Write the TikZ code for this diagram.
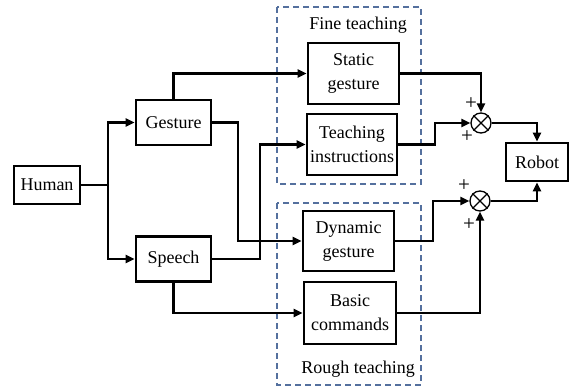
\documentclass[tikz,border=0pt]{standalone}
\usepackage{fontspec}
\setmainfont{Liberation Serif}
\usetikzlibrary{arrows.meta}
\definecolor{groupblue}{RGB}{84,112,158}
\begin{document}
\begin{tikzpicture}[x=1pt,y=-1pt,
  font=\rmfamily\fontsize{18}{24}\selectfont,
  blk/.style={draw, line width=2.6pt, inner sep=0pt, align=center, fill=white},
  conn/.style={line width=2.3pt},
  arr/.style={conn, -{Triangle[length=9pt,width=8pt]}},
  grp/.style={draw=groupblue, line width=1.1pt, dash pattern=on 6pt off 4pt},
  sumnode/.style={circle, draw, line width=1.3pt, minimum size=20pt, inner sep=0pt, fill=white},
  sign/.style={inner sep=0pt, font=\rmfamily\fontsize{21}{21}\selectfont}]
\useasboundingbox (0,0) rectangle (570,387);

% dashed groups
\draw[grp] (277,7) rectangle (421,184);
\draw[grp] (277,203) rectangle (421,385);
\node (finelbl) at (358,25) {Fine teaching};
\node (roughlbl) at (358,369) {Rough teaching};

% blocks
\node[blk, minimum width=66pt, minimum height=38pt] (human) at (47,185) {Human};
\node[blk, minimum width=75pt, minimum height=45pt] (gesture) at (173.5,122.5) {Gesture};
\node[blk, minimum width=75pt, minimum height=45pt] (speech) at (173.5,259) {Speech};
\node[blk, minimum width=91pt, minimum height=61pt] (static) at (353.5,73.5) {Static\\gesture};
\node[blk, minimum width=90pt, minimum height=61pt] (teach) at (352,144.5) {Teaching\\instructions};
\node[blk, minimum width=91pt, minimum height=60pt] (dyn) at (348.5,241) {Dynamic\\gesture};
\node[blk, minimum width=92pt, minimum height=62pt] (basic) at (350,313) {Basic\\commands};
\node[blk, minimum width=62pt, minimum height=38pt] (robot) at (537,162) {Robot};

% summing junctions
\node[sumnode] (s1) at (481,123) {};
\node[sumnode] (s2) at (480,201) {};
\draw[line width=1.3pt] (s1.north west) -- (s1.south east) (s1.north east) -- (s1.south west);
\draw[line width=1.3pt] (s2.north west) -- (s2.south east) (s2.north east) -- (s2.south west);
\node[sign] (p1) at (471,104) {+};
\node[sign] (p2) at (467,137) {+};
\node[sign] (p3) at (464,186) {+};
\node[sign] (p4) at (469,225) {+};

% human splits into gesture and speech
\coordinate (split) at (108,185);
\draw[conn] (human.east) -- (split);
\draw[arr] (split) |- (gesture.west);
\draw[arr] (split) |- (speech.west);

% gesture branches
\draw[arr] (gesture.north) |- (static.west);
\draw[arr] (gesture.east) -- ++(26,0) |- (dyn.west);

% speech branches
\draw[arr] (speech.east) -- ++(48,0) |- (teach.west);
\draw[arr] (speech.south) |- (basic.west);

% into the summing junctions
\draw[arr] (static.east) -| (s1.north);
\draw[arr] (teach.east) -- ++(37,0) |- (s1.west);
\draw[arr] (dyn.east) -- ++(38,0) |- (s2.west);
\draw[arr] (basic.east) -| (s2.south);

% to the robot
\draw[arr] (s1.east) -| (robot.north);
\draw[arr] (s2.east) -| (robot.south);
\end{tikzpicture}
\end{document}
